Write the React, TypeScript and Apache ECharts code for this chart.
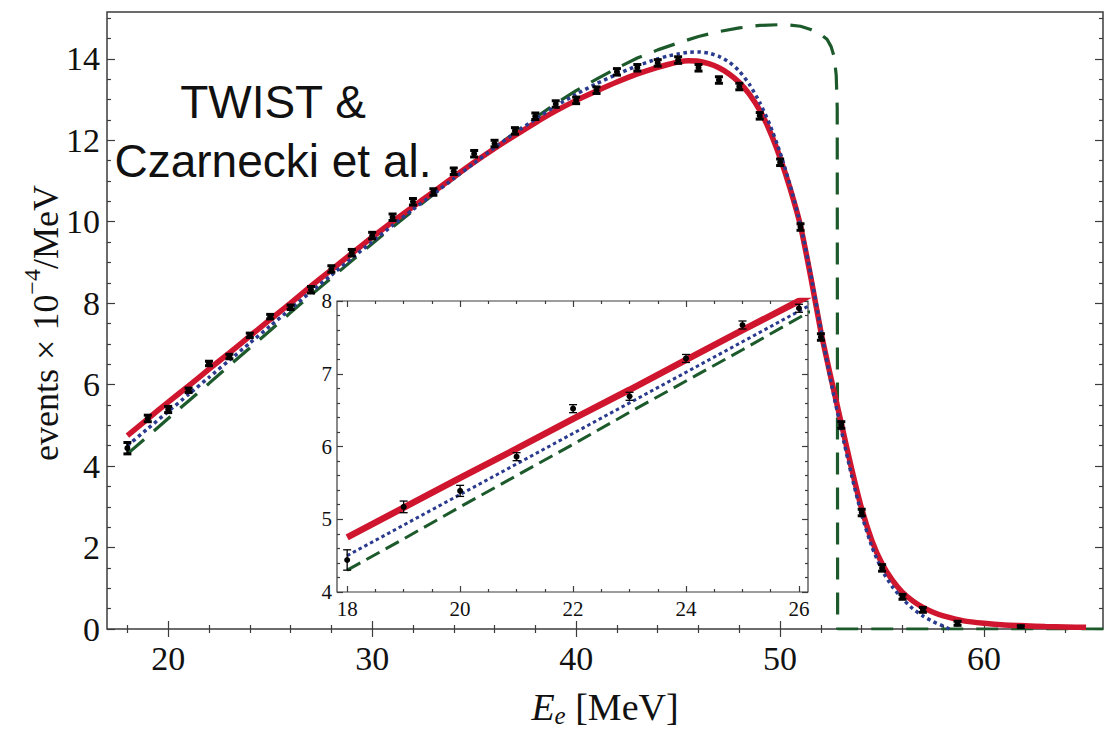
import React, { useEffect, useRef } from 'react';
import * as echarts from 'echarts';

// ---- measured spectrum (TWIST) ----
const energies = [18, 19, 20, 21, 22, 23, 24, 25, 26, 27, 28, 29, 30, 31, 32, 33, 34, 35, 36, 37, 38, 39, 40, 41, 42, 43, 44, 45, 46, 47, 48, 49, 50, 51, 52, 53, 54, 55, 56, 57, 58.7, 61.8];
const measured = [4.44, 5.17, 5.39, 5.86, 6.52, 6.69, 7.21, 7.67, 7.9, 8.33, 8.84, 9.24, 9.66, 10.11, 10.49, 10.73, 11.24, 11.67, 11.92, 12.23, 12.59, 12.89, 12.98, 13.23, 13.68, 13.78, 13.9, 13.97, 13.78, 13.48, 13.32, 12.6, 11.46, 9.87, 7.17, 5.01, 2.86, 1.5, 0.79, 0.47, 0.14, 0.04];
const errors = [0.14, 0.08, 0.076, 0.055, 0.055, 0.055, 0.055, 0.055, 0.055, 0.08, 0.08, 0.08, 0.08, 0.08, 0.08, 0.08, 0.08, 0.08, 0.08, 0.08, 0.08, 0.08, 0.08, 0.08, 0.08, 0.08, 0.08, 0.08, 0.08, 0.08, 0.08, 0.08, 0.08, 0.08, 0.08, 0.08, 0.08, 0.08, 0.06, 0.06, 0.05, 0.04];

// ---- theory: full (red, solid) ----
const fullE = [18, 19, 20, 21, 22, 23, 24, 25, 26, 27, 28, 29, 30, 31, 32, 33, 34, 35, 36, 37, 38, 39, 40, 41, 42, 43, 44, 44.5, 45, 45.5, 46, 46.5, 47, 47.5, 48, 48.5, 49, 49.5, 50, 50.5, 51, 51.5, 52, 52.5, 53, 53.5, 54, 54.5, 55, 55.5, 56, 56.5, 57, 57.5, 58, 59, 60, 61, 62, 63, 64, 65];
const fullY = [4.75, 5.16, 5.57, 5.97, 6.38, 6.78, 7.19, 7.6, 8.0, 8.42, 8.82, 9.22, 9.62, 10.0, 10.37, 10.73, 11.1, 11.46, 11.8, 12.12, 12.43, 12.72, 12.98, 13.21, 13.43, 13.63, 13.79, 13.86, 13.92, 13.95, 13.94, 13.88, 13.78, 13.63, 13.42, 13.13, 12.74, 12.22, 11.57, 10.8, 9.9, 8.65, 7.3, 6.15, 5.05, 3.95, 2.95, 2.17, 1.6, 1.2, 0.9, 0.69, 0.53, 0.41, 0.32, 0.2, 0.14, 0.1, 0.08, 0.06, 0.05, 0.04];

// ---- theory: blue, dotted ----
const dotE = [18, 19, 20, 21, 22, 23, 24, 25, 26, 27, 28, 29, 30, 31, 32, 33, 34, 35, 36, 37, 38, 39, 40, 41, 42, 43, 44, 44.5, 45, 45.5, 46, 46.5, 47, 47.5, 48, 48.5, 49, 49.5, 50, 50.5, 51, 51.5, 52, 52.5, 53, 53.5, 54, 54.5, 55, 55.5, 56, 56.5, 57, 57.5, 58, 58.3];
const dotY = [4.5, 4.92, 5.34, 5.76, 6.18, 6.6, 7.02, 7.44, 7.86, 8.28, 8.69, 9.1, 9.51, 9.91, 10.3, 10.68, 11.06, 11.44, 11.82, 12.18, 12.52, 12.84, 13.13, 13.39, 13.62, 13.83, 14.0, 14.07, 14.12, 14.16, 14.17, 14.14, 14.06, 13.92, 13.7, 13.37, 12.93, 12.38, 11.7, 10.88, 9.92, 8.72, 7.35, 6.05, 4.88, 3.78, 2.8, 2.02, 1.44, 1.04, 0.74, 0.5, 0.32, 0.18, 0.07, 0];

// ---- theory: tree level (green, dashed) ----
const dashE = [18, 19, 20, 21, 22, 23, 24, 25, 26, 27, 28, 29, 30, 31, 32, 33, 34, 35, 36, 37, 38, 39, 40, 41, 42, 43, 44, 45, 46, 47, 48, 49, 50, 50.5, 51, 51.5, 52, 52.3, 52.5, 52.65, 52.75, 52.8, 52.82, 66];
const dashY = [4.3, 4.73, 5.17, 5.6, 6.03, 6.47, 6.9, 7.33, 7.77, 8.2, 8.62, 9.04, 9.46, 9.87, 10.27, 10.67, 11.06, 11.44, 11.82, 12.19, 12.55, 12.9, 13.22, 13.5, 13.77, 14.02, 14.22, 14.39, 14.55, 14.67, 14.76, 14.82, 14.84, 14.83, 14.8, 14.72, 14.6, 14.48, 14.3, 14.05, 13.6, 12.8, 0, 0];

// ---- ticks ----
const mainMajorX = [20, 30, 40, 50, 60];
const mainMinorX = [18, 22, 24, 26, 28, 32, 34, 36, 38, 42, 44, 46, 48, 52, 54, 56, 58, 62, 64];
const mainMajorY = [0, 2, 4, 6, 8, 10, 12, 14];
const mainMinorY = [0.5, 1, 1.5, 2.5, 3, 3.5, 4.5, 5, 5.5, 6.5, 7, 7.5, 8.5, 9, 9.5, 10.5, 11, 11.5, 12.5, 13, 13.5, 14.5, 15];
const insetMajorX = [18, 20, 22, 24, 26];
const insetMinorX = [18.5, 19, 19.5, 20.5, 21, 21.5, 22.5, 23, 23.5, 24.5, 25, 25.5];
const insetMajorY = [4, 5, 6, 7, 8];
const insetMinorY = [4.2, 4.4, 4.6, 4.8, 5.2, 5.4, 5.6, 5.8, 6.2, 6.4, 6.6, 6.8, 7.2, 7.4, 7.6, 7.8];

const RED = '#d0162e';
const BLUE = '#2a3a8e';
const GREEN = '#1c5a2b';
const FRAME = '#3c3c3c';
const SERIF = '"Liberation Serif", "Times New Roman", serif';

function pairs(xs: number[], ys: number[]) {
  return xs.map((x, i) => [x, ys[i]]);
}

function axis(
  grid: number,
  pos: string,
  min: number,
  max: number,
  ticks: number[],
  len: number,
  labels: number[] | null,
  fontSize: number,
  margin: number
) {
  return {
    type: 'value',
    gridIndex: grid,
    position: pos,
    min,
    max,
    axisLine: { show: false },
    splitLine: { show: false },
    minorTick: { show: false },
    axisTick: {
      show: true,
      inside: true,
      length: len,
      customValues: ticks,
      lineStyle: { color: FRAME, width: 1.2 },
    },
    axisLabel: labels
      ? {
          show: true,
          customValues: labels,
          fontFamily: SERIF,
          fontSize,
          color: '#111',
          margin,
        }
      : { show: false },
  };
}

function errRenderer(capHalf: number, capW: number, barW: number, r: number) {
  return (params: any, api: any) => {
    const x = api.value(0);
    const y = api.value(1);
    const e = api.value(2);
    const p = api.coord([x, y]);
    const t = api.coord([x, y + e]);
    const b = api.coord([x, y - e]);
    return {
      type: 'group',
      children: [
        { type: 'line', shape: { x1: p[0], y1: t[1], x2: p[0], y2: b[1] }, style: { stroke: '#000', lineWidth: barW } },
        { type: 'line', shape: { x1: p[0] - capHalf, y1: t[1], x2: p[0] + capHalf, y2: t[1] }, style: { stroke: '#000', lineWidth: capW } },
        { type: 'line', shape: { x1: p[0] - capHalf, y1: b[1], x2: p[0] + capHalf, y2: b[1] }, style: { stroke: '#000', lineWidth: capW } },
        { type: 'circle', shape: { cx: p[0], cy: p[1], r }, style: { fill: '#000' } },
      ],
    };
  };
}

export default function App() {
  const ref = useRef<HTMLDivElement>(null);

  useEffect(() => {
    if (!ref.current) return;
    const chart = echarts.init(ref.current, undefined, { renderer: 'svg' });
    const pts = energies.map((e, i) => [e, measured[i], errors[i]]);

    const option: any = {
      animation: false,
      backgroundColor: '#fff',
      grid: [
        { left: 107, top: 12, width: 996, height: 617, show: true, borderColor: FRAME, borderWidth: 1.5, backgroundColor: 'transparent' },
        { left: 337, top: 301, width: 471, height: 291, show: true, borderColor: FRAME, borderWidth: 1.2, backgroundColor: '#fff' },
      ],
      xAxis: [
        axis(0, 'bottom', 17, 65.83, mainMajorX, 8, mainMajorX, 34, 12),
        axis(0, 'bottom', 17, 65.83, mainMinorX, 4, null, 0, 0),
        axis(0, 'top', 17, 65.83, mainMajorX, 8, null, 0, 0),
        axis(0, 'top', 17, 65.83, mainMinorX, 4, null, 0, 0),
        axis(1, 'bottom', 17.82, 26.16, insetMajorX, 6, insetMajorX, 21, 6),
        axis(1, 'bottom', 17.82, 26.16, insetMinorX, 3, null, 0, 0),
        axis(1, 'top', 17.82, 26.16, insetMajorX, 6, null, 0, 0),
        axis(1, 'top', 17.82, 26.16, insetMinorX, 3, null, 0, 0),
      ],
      yAxis: [
        axis(0, 'left', 0, 15.15, mainMajorY, 8, mainMajorY, 34, 7),
        axis(0, 'left', 0, 15.15, mainMinorY, 4, null, 0, 0),
        axis(0, 'right', 0, 15.15, mainMajorY, 8, null, 0, 0),
        axis(0, 'right', 0, 15.15, mainMinorY, 4, null, 0, 0),
        axis(1, 'left', 4, 8, insetMajorY, 6, insetMajorY, 21, 5),
        axis(1, 'left', 4, 8, insetMinorY, 3, null, 0, 0),
        axis(1, 'right', 4, 8, insetMajorY, 6, null, 0, 0),
        axis(1, 'right', 4, 8, insetMinorY, 3, null, 0, 0),
      ],
      series: [
        { type: 'line', xAxisIndex: 0, yAxisIndex: 0, data: pairs(dashE, dashY), showSymbol: false, symbol: 'none', clip: true,
          lineStyle: { color: GREEN, width: 3.2, type: [22, 13] }, z: 3 },
        { type: 'line', xAxisIndex: 0, yAxisIndex: 0, data: pairs(fullE, fullY), showSymbol: false, symbol: 'none', smooth: 0.2, clip: true,
          lineStyle: { color: RED, width: 5.5 }, z: 4 },
        { type: 'line', xAxisIndex: 0, yAxisIndex: 0, data: pairs(dotE, dotY), showSymbol: false, symbol: 'none', smooth: 0.2, clip: true,
          lineStyle: { color: BLUE, width: 3.5, type: [3.5, 3.5] }, z: 5 },
        { type: 'custom', xAxisIndex: 0, yAxisIndex: 0, data: pts, clip: true, renderItem: errRenderer(4, 3, 2.2, 3), z: 6 },

        { type: 'line', xAxisIndex: 4, yAxisIndex: 4, data: pairs(dashE, dashY), showSymbol: false, symbol: 'none', clip: true,
          lineStyle: { color: GREEN, width: 3, type: [15, 7] }, z: 7 },
        { type: 'line', xAxisIndex: 4, yAxisIndex: 4, data: pairs(dotE, dotY), showSymbol: false, symbol: 'none', clip: true,
          lineStyle: { color: BLUE, width: 3, type: [3.5, 3] }, z: 7 },
        { type: 'line', xAxisIndex: 4, yAxisIndex: 4, data: pairs(fullE, fullY), showSymbol: false, symbol: 'none', clip: true,
          lineStyle: { color: RED, width: 6.5 }, z: 7 },
        { type: 'custom', xAxisIndex: 4, yAxisIndex: 4, data: pts, clip: true, renderItem: errRenderer(4, 1.3, 1.3, 3), z: 8 },
      ],
      graphic: [
        { type: 'text', x: 273, y: 102, z: 20,
          style: { text: 'TWIST &', font: '46px "Liberation Sans", Arial, sans-serif', fill: '#111', align: 'center', verticalAlign: 'middle' } },
        { type: 'text', x: 273, y: 161, z: 20,
          style: { text: 'Czarnecki et al.', font: '46px "Liberation Sans", Arial, sans-serif', fill: '#111', align: 'center', verticalAlign: 'middle' } },
        { type: 'text', x: 605, y: 708, z: 20,
          style: {
            text: '{i|E}{s|e}{n| [MeV]}', align: 'center', verticalAlign: 'middle',
            rich: {
              i: { fontFamily: SERIF, fontStyle: 'italic', fontSize: 38, lineHeight: 40, verticalAlign: 'top', fill: '#111' },
              s: { fontFamily: SERIF, fontStyle: 'italic', fontSize: 25, lineHeight: 30, verticalAlign: 'bottom', fill: '#111' },
              n: { fontFamily: SERIF, fontSize: 38, lineHeight: 40, verticalAlign: 'top', fill: '#111' },
            },
          } },
        { type: 'text', x: 42, y: 323, rotation: Math.PI / 2, z: 20,
          style: {
            text: '{a|events × 10}{s|−4}{a|/MeV}', align: 'center', verticalAlign: 'middle',
            rich: {
              a: { fontFamily: SERIF, fontSize: 36, lineHeight: 44, verticalAlign: 'bottom', fill: '#111' },
              s: { fontFamily: SERIF, fontSize: 24, lineHeight: 30, verticalAlign: 'top', fill: '#111' },
            },
          } },
      ],
    };
    chart.setOption(option);
    return () => chart.dispose();
  }, []);

  return <div ref={ref} style={{ position: 'absolute', left: 0, top: 0, width: 1105, height: 731 }} />;
}
